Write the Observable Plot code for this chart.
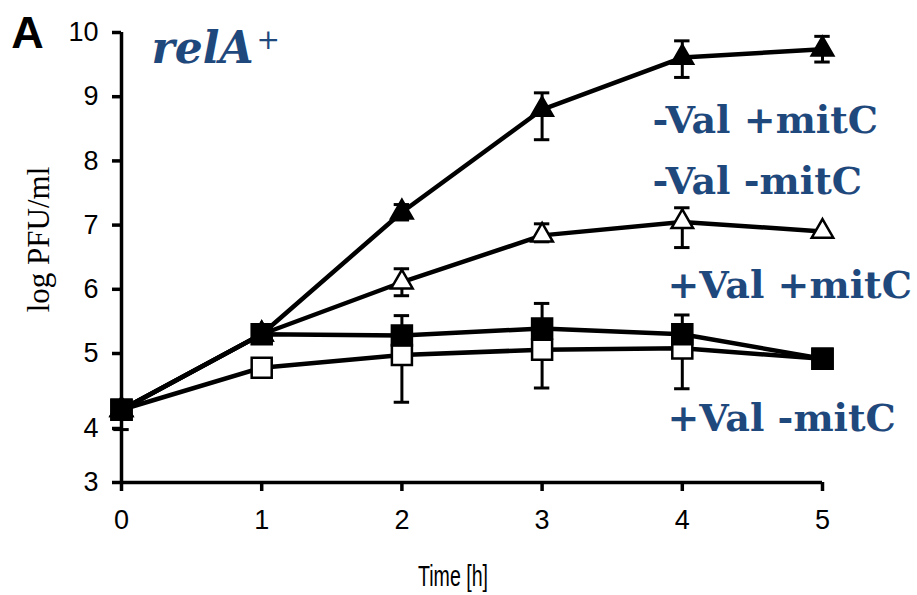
<!DOCTYPE html>
<html>
<head>
<meta charset="utf-8">
<script src="https://cdn.jsdelivr.net/npm/d3@7"></script>
<script src="https://cdn.jsdelivr.net/npm/@observablehq/plot@0.6"></script>
<style>
  html, body { margin: 0; padding: 0; background: #fff; }
  #chart { width: 917px; height: 595px; }
</style>
</head>
<body>
<div id="chart"></div>
<script>
// Time points (hours)
const hours = [0, 1, 2, 3, 4, 5];

// Phage titre, log PFU/ml, for each condition
const minusValPlusMitC  = [4.25, 5.30, 7.20, 8.80, 9.61, 9.74];
const minusValMinusMitC = [4.25, 5.30, 6.11, 6.84, 7.05, 6.90];
const plusValPlusMitC   = [4.25, 5.30, 5.28, 5.39, 5.30, 4.93];
const plusValMinusMitC  = [4.25, 4.81, 4.98, 5.06, 5.08, 4.93];

// Error bar extents above / below each mean (log units)
const minusValPlusMitCUp    = [0, 0, 0.12, 0.26, 0.26, 0.20];
const minusValPlusMitCDown  = [0, 0, 0.12, 0.47, 0.31, 0.20];
const minusValMinusMitCUp   = [0, 0, 0.21, 0.18, 0.22, 0];
const minusValMinusMitCDown = [0, 0, 0.21, 0.10, 0.40, 0];
const plusValPlusMitCUp     = [0, 0, 0.31, 0.39, 0.30, 0];
const plusValPlusMitCDown   = [0, 0, 0, 0, 0, 0];
const plusValMinusMitCUp    = [0, 0, 0, 0, 0, 0];
const plusValMinusMitCDown  = [0.27, 0, 0.63, 0.52, 0.55, 0];

const conditionNames = ["-Val +mitC", "-Val -mitC", "+Val +mitC", "+Val -mitC"];
const yTicks = [3, 4, 5, 6, 7, 8, 9, 10];
const xTicks = [0, 1, 2, 3, 4, 5];

function rowsFor(name, values, up, down) {
  return hours.map((t, i) => ({
    condition: name, t, value: values[i],
    hi: values[i] + up[i], lo: values[i] - down[i],
    hasUp: up[i] > 0, hasDown: down[i] > 0
  }));
}

const series = {
  fTri: rowsFor(conditionNames[0], minusValPlusMitC, minusValPlusMitCUp, minusValPlusMitCDown),
  oTri: rowsFor(conditionNames[1], minusValMinusMitC, minusValMinusMitCUp, minusValMinusMitCDown),
  fSq:  rowsFor(conditionNames[2], plusValPlusMitC, plusValPlusMitCUp, plusValPlusMitCDown),
  oSq:  rowsFor(conditionNames[3], plusValMinusMitC, plusValMinusMitCUp, plusValMinusMitCDown)
};
const allRows = [...series.oSq, ...series.oTri, ...series.fTri, ...series.fSq];
const barRows = allRows.filter(d => d.hasUp || d.hasDown);
const capHalf = 0.055;

const blue = "#1f497d";
const sans = "'Liberation Sans', Arial, Helvetica, sans-serif";
const serif = "'Liberation Serif', 'Times New Roman', serif";
const labelSerif = "'DejaVu Serif', serif";

const labelStyle = {
  frameAnchor: "top-left", textAnchor: "start", lineAnchor: "bottom",
  fontFamily: labelSerif, fontWeight: "bold", fontSize: 38, fill: blue
};

const chart = Plot.plot({
  width: 917,
  height: 595,
  marginLeft: 121,
  marginRight: 95,
  marginTop: 32,
  marginBottom: 113,
  style: { background: "#fff", color: "#000", fontFamily: sans },
  x: { type: "linear", domain: [0, 5] },
  // the printed axis spaces 3–4 and 4–5 unevenly, so the scale is piecewise
  y: { type: "linear", domain: [3, 4, 5, 10], range: [482, 428, 353, 32] },
  marks: [
    // axes
    Plot.ruleX([0], { y1: 3, y2: 10, stroke: "#000", strokeWidth: 3.5 }),
    Plot.ruleY([3], { x1: 0, x2: 5, stroke: "#000", strokeWidth: 3.5 }),
    Plot.axisY(yTicks, {
      tickSize: 9, tickPadding: 14, strokeWidth: 3.5, tickFormat: d => String(d),
      fontSize: 27, fontFamily: sans, label: null
    }),
    Plot.axisX(xTicks, {
      tickSize: 9, tickPadding: 18, strokeWidth: 3.5, tickFormat: d => String(d),
      fontSize: 27, fontFamily: sans, label: null
    }),

    // connecting lines
    Plot.line(allRows, {
      x: "t", y: "value", z: "condition",
      stroke: "#000", strokeWidth: 4.5, strokeLinejoin: "round"
    }),

    // error bars with caps
    Plot.ruleX(barRows, { x: "t", y1: "lo", y2: "hi", stroke: "#000", strokeWidth: 3 }),
    Plot.ruleY(allRows.filter(d => d.hasUp), {
      y: "hi", x1: d => d.t - capHalf, x2: d => d.t + capHalf, stroke: "#000", strokeWidth: 3
    }),
    Plot.ruleY(allRows.filter(d => d.hasDown), {
      y: "lo", x1: d => d.t - capHalf, x2: d => d.t + capHalf, stroke: "#000", strokeWidth: 3
    }),

    // markers
    Plot.dot(series.oSq,  { x: "t", y: "value", symbol: "square",   r: 11.3, fill: "#fff", stroke: "#000", strokeWidth: 2.5 }),
    Plot.dot(series.oTri, { x: "t", y: "value", symbol: "triangle", r: 8,    fill: "#fff", stroke: "#000", strokeWidth: 2.5 }),
    Plot.dot(series.fTri, { x: "t", y: "value", symbol: "triangle", r: 8,    fill: "#000", stroke: "#000", strokeWidth: 2.5 }),
    Plot.dot(series.fSq,  { x: "t", y: "value", symbol: "square",   r: 11.3, fill: "#000", stroke: "#000", strokeWidth: 2.5 }),

    // axis titles
    Plot.text(["log PFU/ml"], {
      frameAnchor: "left", textAnchor: "middle", lineAnchor: "middle",
      dx: -82, dy: -18, rotate: -90,
      fontFamily: serif, fontSize: 31, fill: "#000"
    }),
    Plot.text(["Time [h]"], {
      frameAnchor: "bottom", textAnchor: "middle", lineAnchor: "middle",
      dx: -19, dy: 94, className: "time-title",
      fontFamily: sans, fontSize: 30, fill: "#000"
    }),

    // panel letter and strain
    Plot.text(["A"], {
      frameAnchor: "top-left", textAnchor: "middle", lineAnchor: "middle", dx: -94, dy: 1,
      fontFamily: sans, fontWeight: "bold", fontSize: 45, fill: "#000"
    }),
    Plot.text(["relA"], {
      frameAnchor: "top-left", dx: 30, dy: 30, textAnchor: "start", lineAnchor: "bottom",
      fontFamily: labelSerif, fontWeight: "bold", fontStyle: "italic", fontSize: 44, fill: blue
    }),
    Plot.text(["+"], {
      frameAnchor: "top-left", dx: 135, dy: 16, textAnchor: "start", lineAnchor: "bottom",
      fontFamily: labelSerif, fontSize: 28, fill: blue
    }),

    // condition labels
    Plot.text([conditionNames[0]], { ...labelStyle, dx: 531, dy: 100 }),
    Plot.text([conditionNames[1]], { ...labelStyle, dx: 531, dy: 161 }),
    Plot.text([conditionNames[2]], { ...labelStyle, dx: 546, dy: 265 }),
    Plot.text([conditionNames[3]], { ...labelStyle, dx: 546, dy: 398 })
  ]
});

// the axis title is set in a condensed face
d3.select(chart).selectAll(".time-title text")
  .attr("textLength", 70)
  .attr("lengthAdjust", "spacingAndGlyphs");

document.getElementById("chart").appendChild(chart);
</script>
</body>
</html>
